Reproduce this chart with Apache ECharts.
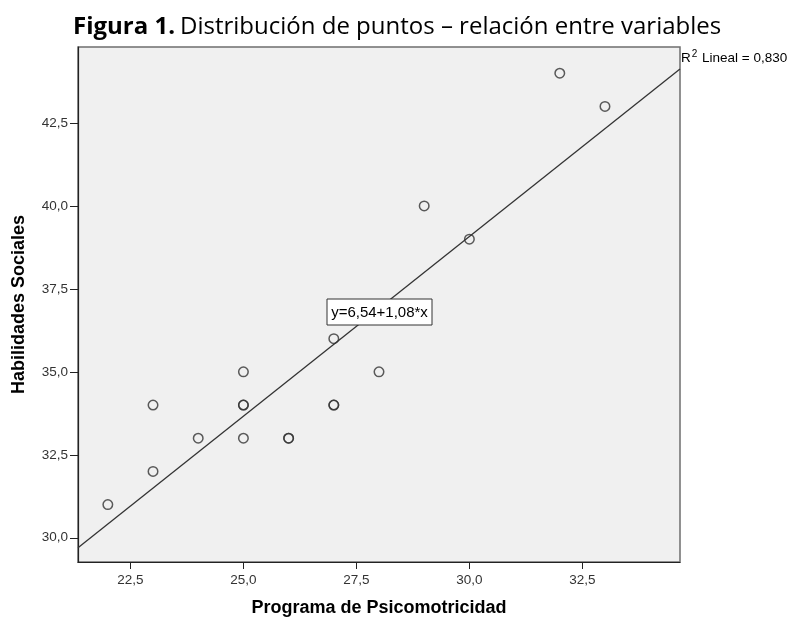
<!DOCTYPE html>
<html>
<head>
<meta charset="utf-8">
<script src="https://cdn.jsdelivr.net/npm/echarts@6/dist/echarts.min.js"></script>
<style>html,body{margin:0;padding:0;background:#fff;}#c{width:788px;height:618px;}</style>
</head>
<body>
<div id="c"></div>
<script>
// Data
const xValues = [22, 23, 23, 24, 25, 25, 25, 25, 26, 26, 27, 27, 27, 28, 29, 30, 32, 33];
const yValues = [31, 34, 32, 33, 35, 34, 34, 33, 33, 33, 36, 34, 34, 35, 40, 39, 44, 43];
const xTicks = [22.5, 25.0, 27.5, 30.0, 32.5];
const yTicks = [30.0, 32.5, 35.0, 37.5, 40.0, 42.5];
const xRange = [21.34, 34.66];
const yRange = [29.27, 44.79];
const fitIntercept = 6.59;   // drawn line as seen in the picture
const fitSlope = 1.083;
const fitLabel = 'y=6,54+1,08*x';
const r2Text = '0,830';

const points = xValues.map((x, i) => [x, yValues[i]]);
const fitLine = xRange.map(x => [x, fitIntercept + fitSlope * x]);
const fmt = v => v.toFixed(1).replace('.', ',');
const AR = 'Arial, Liberation Sans';

const chart = echarts.init(document.getElementById('c'));
chart.setOption({
  backgroundColor: '#ffffff',
  animation: false,
  title: {
    left: 68, top: 10,
    text: '{b|Figura 1.} {n|Distribución de puntos – relación entre variables}',
    textStyle: {
      rich: {
        b: {fontFamily: 'Open Sans', fontWeight: 'bold', fontSize: 24, color: '#000'},
        n: {fontFamily: 'Open Sans', fontWeight: 'normal', fontSize: 24, color: '#000'}
      }
    }
  },
  grid: {left: 78, top: 47, width: 602, height: 515, containLabel: false, outerBoundsMode: 'none',
         show: true, backgroundColor: '#f0f0f0', borderColor: '#6e6e6e', borderWidth: 1.5},
  xAxis: {
    type: 'value', min: xRange[0], max: xRange[1],
    name: 'Programa de Psicomotricidad', nameLocation: 'middle', nameGap: 37,
    nameTextStyle: {fontFamily: AR, fontWeight: 'bold', fontSize: 18, color: '#000'},
    axisLine: {show: true, onZero: false, lineStyle: {color: '#222', width: 1.2}},
    axisTick: {show: true, length: 7, lineStyle: {color: '#222'}, customValues: xTicks},
    axisLabel: {margin: 11, fontFamily: AR, fontSize: 13.5, color: '#333', customValues: xTicks, formatter: fmt},
    splitLine: {show: false}
  },
  yAxis: {
    type: 'value', min: yRange[0], max: yRange[1],
    name: 'Habilidades Sociales', nameLocation: 'middle', nameGap: 50,
    nameTextStyle: {fontFamily: AR, fontWeight: 'bold', fontSize: 18, color: '#000'},
    axisLine: {show: true, onZero: false, lineStyle: {color: '#222', width: 1.2}},
    axisTick: {show: true, length: 8, lineStyle: {color: '#222'}, customValues: yTicks},
    axisLabel: {margin: 10, fontFamily: AR, fontSize: 13.5, color: '#333', customValues: yTicks, formatter: fmt},
    splitLine: {show: false}
  },
  series: [
    {
      type: 'line', data: fitLine, symbol: 'none', silent: true,
      lineStyle: {color: '#333', width: 1.3}, z: 2
    },
    {
      type: 'scatter', data: points, symbol: 'circle', symbolSize: 9.5,
      itemStyle: {color: 'rgba(0,0,0,0)', borderColor: '#333', borderWidth: 1.5}, z: 3
    }
  ],
  graphic: [
    {
      type: 'text', left: 681, top: 49, z: 10,
      style: {
        text: '{r|R}{s|2}{r| Lineal = ' + r2Text + '}',
        rich: {
          r: {fontFamily: AR, fontSize: 13.5, color: '#000', verticalAlign: 'bottom'},
          s: {fontFamily: AR, fontSize: 10, color: '#000', verticalAlign: 'top', padding: [0, 1, 6, 1]}
        }
      }
    },
    {
      type: 'rect', shape: {x: 327, y: 299, width: 105, height: 26}, z: 10,
      style: {fill: '#ffffff', stroke: '#333', lineWidth: 1}
    },
    {
      type: 'text', x: 379.5, y: 312.5, z: 11,
      style: {text: fitLabel, fontFamily: AR, fontSize: 15, fill: '#000', align: 'center', verticalAlign: 'middle'}
    }
  ]
});
</script>
</body>
</html>
